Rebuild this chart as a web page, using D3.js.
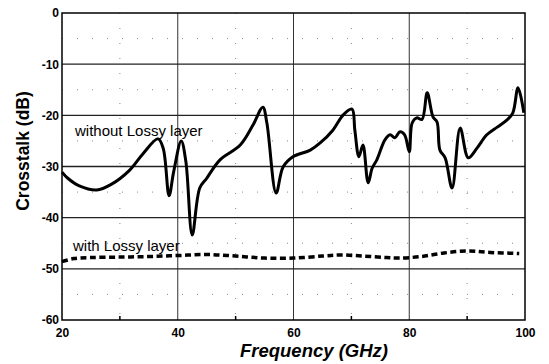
<!DOCTYPE html>
<html><head><meta charset="utf-8">
<script src="https://cdn.jsdelivr.net/npm/d3@7"></script>
<style>body{margin:0;background:#fff}svg{display:block}</style>
</head><body><svg id="c" width="549" height="364"></svg>
<script>
const xTicks = [20, 40, 60, 80, 100];
const yTicks = [0, -10, -20, -30, -40, -50, -60];
const xMinor = [30, 50, 70, 90];
const yMinor = [-5, -15, -25, -35, -45, -55];

const freqNoLossy = [20,21,23,26,28.5,31.7,34,36.6,37.5,38.5,39.3,40.6,41.4,42.5,43.8,45,47.3,50.8,53,54.7,55.4,57,58.2,59.9,62.9,64.6,66.8,68.6,70.1,70.6,71.3,72,72.9,73.6,74.4,75.8,76.7,77.5,78.4,79.2,80,80.5,81.3,82.2,83.1,84.1,84.8,85.3,86.2,87.4,88.8,90.2,91.7,93.4,95.2,96.9,97.9,98.8,99.8];
const crosstalkNoLossy = [-31.1,-32.3,-33.8,-34.6,-33.5,-30.7,-27.5,-24.6,-26.5,-35.7,-31,-25,-29,-43.4,-34.2,-32.3,-28.7,-25.8,-21.9,-18.4,-21.5,-35.2,-30.1,-28.1,-26.8,-25.4,-22.9,-19.9,-18.8,-22.9,-28.1,-25.8,-33.2,-30.3,-28.7,-24.8,-23.8,-24.4,-23.2,-23.8,-27.1,-21.5,-20.5,-20.8,-15.6,-20.3,-21.3,-26.8,-28.3,-34.2,-22.5,-28.3,-26.4,-23.8,-22.3,-20.9,-19.5,-14.6,-19.5];

const freqLossy = [20,22,25,30,35,40,45,50,55,60,65,68,72,76,78.4,82,86,90,94,99];
const crosstalkLossy = [-48.6,-48.0,-47.8,-47.7,-47.6,-47.4,-47.2,-47.5,-47.9,-47.9,-47.5,-47.3,-47.5,-47.8,-47.9,-47.6,-46.9,-46.5,-46.8,-47.0];

const labelNoLossy = "without Lossy layer";
const labelLossy = "with Lossy layer";
const xTitle = "Frequency (GHz)";
const yTitle = "Crosstalk (dB)";

const L = 62, T = 13, W = 463, H = 307;
const svg = d3.select("#c");
const x = d3.scaleLinear().domain([20, 100]).range([L, L + W]);
const y = d3.scaleLinear().domain([-60, 0]).range([T + H, T]);
const font = "Arial, 'Liberation Sans', sans-serif";

// minor dotted grid
svg.append("g").selectAll("line").data(xMinor).join("line")
  .attr("x1", d => x(d)).attr("x2", d => x(d)).attr("y1", T).attr("y2", T + H)
  .attr("stroke", "#888").attr("stroke-width", 1).attr("stroke-dasharray", "1,14");
svg.append("g").selectAll("line").data(yMinor).join("line")
  .attr("x1", L).attr("x2", L + W).attr("y1", d => y(d)).attr("y2", d => y(d))
  .attr("stroke", "#888").attr("stroke-width", 1).attr("stroke-dasharray", "1,14");

// major grid
svg.append("g").selectAll("line").data(xTicks.slice(1, -1)).join("line")
  .attr("x1", d => x(d)).attr("x2", d => x(d)).attr("y1", T).attr("y2", T + H)
  .attr("stroke", "#333").attr("stroke-width", 1);
svg.append("g").selectAll("line").data(yTicks.slice(1, -1)).join("line")
  .attr("x1", L).attr("x2", L + W).attr("y1", d => y(d)).attr("y2", d => y(d))
  .attr("stroke", "#222").attr("stroke-width", 1.4);

// frame
svg.append("rect").attr("x", L).attr("y", T).attr("width", W).attr("height", H)
  .attr("fill", "none").attr("stroke", "#000").attr("stroke-width", 1.5);

// axes
const xAxis = d3.axisBottom(x).tickValues(xTicks).tickFormat(d => String(d)).tickSize(0).tickPadding(8);
const gx = svg.append("g").attr("transform", `translate(0,${T + H})`).call(xAxis);
gx.select(".domain").remove();
gx.selectAll("text").attr("font-family", font).attr("font-size", 12).attr("font-weight", "bold").attr("fill", "#000");

const yAxis = d3.axisLeft(y).tickValues(yTicks).tickFormat(d => String(d)).tickSize(0).tickPadding(3);
const gy = svg.append("g").attr("transform", `translate(${L},0)`).call(yAxis);
gy.select(".domain").remove();
gy.selectAll("text").attr("font-family", font).attr("font-size", 12).attr("font-weight", "bold").attr("fill", "#000");

// minor ticks on bottom axis
svg.append("g").selectAll("line").data(xMinor).join("line")
  .attr("x1", d => x(d)).attr("x2", d => x(d)).attr("y1", T + H).attr("y2", T + H - 4)
  .attr("stroke", "#000").attr("stroke-width", 1.5);

// series
const line = d3.line().x(d => x(d[0])).y(d => y(d[1])).curve(d3.curveCatmullRom.alpha(0.5));
svg.append("path").datum(freqNoLossy.map((f, i) => [f, crosstalkNoLossy[i]]))
  .attr("d", line).attr("fill", "none").attr("stroke", "#000").attr("stroke-width", 3)
  .attr("stroke-linejoin", "round");
svg.append("path").datum(freqLossy.map((f, i) => [f, crosstalkLossy[i]]))
  .attr("d", line).attr("fill", "none").attr("stroke", "#000").attr("stroke-width", 3.5)
  .attr("stroke-dasharray", "6,3.5");

// labels
svg.append("text").attr("x", 75).attr("y", 136).text(labelNoLossy)
  .attr("font-family", font).attr("font-size", 15).attr("fill", "#000");
svg.append("text").attr("x", 73).attr("y", 251).text(labelLossy)
  .attr("font-family", font).attr("font-size", 15).attr("fill", "#000");

// titles
svg.append("text").attr("x", 314).attr("y", 357).attr("text-anchor", "middle").text(xTitle)
  .attr("font-family", font).attr("font-size", 18.5).attr("font-weight", "bold").attr("font-style", "italic");
svg.append("text").attr("transform", "translate(29,151) rotate(-90)").attr("text-anchor", "middle").text(yTitle)
  .attr("font-family", font).attr("font-size", 17.5).attr("font-weight", "bold");
</script></body></html>
